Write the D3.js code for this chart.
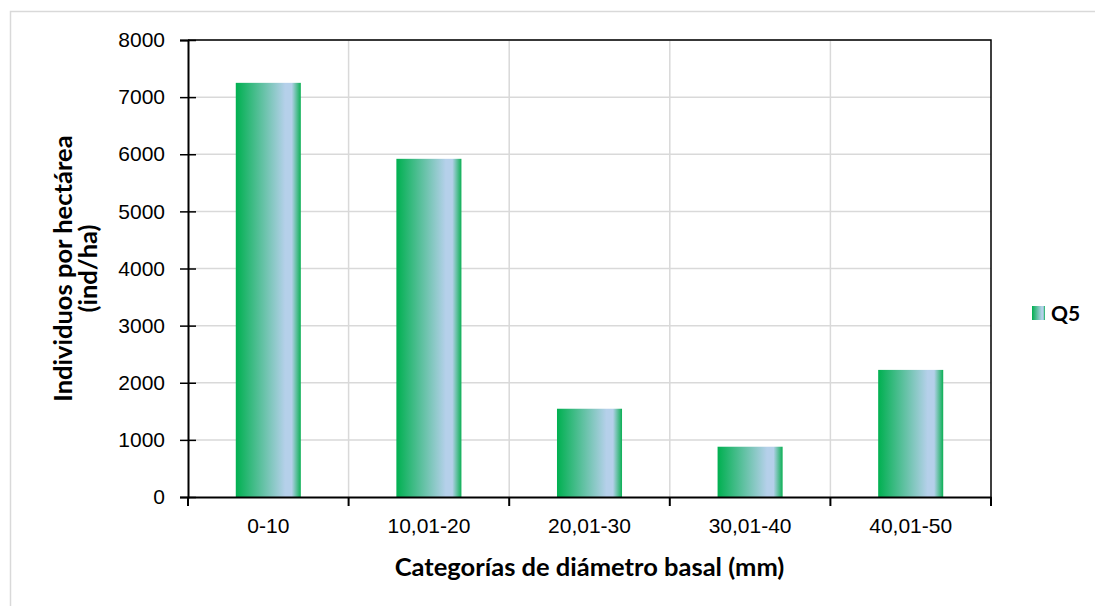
<!DOCTYPE html>
<html>
<head>
<meta charset="utf-8">
<script src="https://cdn.jsdelivr.net/npm/d3@7"></script>
<style>
  html, body { margin: 0; padding: 0; background: #fff; }
  svg { display: block; font-family: Lato, "Open Sans", sans-serif; }
</style>
</head>
<body>
<svg id="chart" width="1095" height="606"></svg>
<script>
// Diameter classes and density of individuals (ind/ha)
const categories = ["0-10", "10,01-20", "20,01-30", "30,01-40", "40,01-50"];
const q5Values = [7250, 5920, 1545, 880, 2225];
const yTicks = [0, 1000, 2000, 3000, 4000, 5000, 6000, 7000, 8000];
const seriesName = "Q5";

const svg = d3.select("#chart");
const W = 1095, H = 606;
const plot = { left: 188, right: 991, top: 40, bottom: 497 };

// Outer chart frame
svg.append("rect")
  .attr("x", 10.5).attr("y", 11.5)
  .attr("width", W).attr("height", H)
  .attr("fill", "none").attr("stroke", "#d9d9d9").attr("stroke-width", 1.5);

const x = d3.scaleBand().domain(categories)
  .range([plot.left, plot.right]).paddingInner(0).paddingOuter(0);
const y = d3.scaleLinear().domain([0, 8000]).range([plot.bottom, plot.top]);

// Bar gradient: green to pale blue with a green rim on the right
const defs = svg.append("defs");
const grad = defs.append("linearGradient").attr("id", "barGrad")
  .attr("x1", "0%").attr("x2", "100%").attr("y1", "0%").attr("y2", "0%");
[[0, "#00b050"], [0.76, "#b5d0ea"], [0.86, "#b5d0ea"], [1, "#0cb055"]]
  .forEach(([o, c]) => grad.append("stop").attr("offset", o).attr("stop-color", c));

// Horizontal gridlines
svg.append("g").selectAll("line").data(yTicks.filter(t => t > 0)).join("line")
  .attr("x1", plot.left).attr("x2", plot.right)
  .attr("y1", d => y(d)).attr("y2", d => y(d))
  .attr("stroke", "#d9d9d9").attr("stroke-width", 1.5);

// Vertical gridlines at class boundaries
const bounds = categories.slice(1).map(c => x(c));
svg.append("g").selectAll("line").data(bounds).join("line")
  .attr("x1", d => d).attr("x2", d => d)
  .attr("y1", plot.top).attr("y2", plot.bottom)
  .attr("stroke", "#d9d9d9").attr("stroke-width", 1.5);

// Bars
const barW = x.bandwidth() * 0.405;
svg.append("g").selectAll("rect").data(q5Values).join("rect")
  .attr("x", (d, i) => x(categories[i]) + (x.bandwidth() - barW) / 2)
  .attr("width", barW)
  .attr("y", d => y(d))
  .attr("height", d => y(0) - y(d))
  .attr("fill", "url(#barGrad)");

// Frame on top and right of plot area
svg.append("path")
  .attr("d", `M${plot.left},${plot.top}H${plot.right}V${plot.bottom}`)
  .attr("fill", "none").attr("stroke", "#000").attr("stroke-width", 1.5);

// Y axis
const yAxis = svg.append("g").attr("transform", `translate(${plot.left},0)`)
  .call(d3.axisLeft(y).tickValues(yTicks).tickSize(8).tickPadding(15).tickFormat(d3.format("d")));
yAxis.select(".domain").attr("stroke", "#000").attr("stroke-width", 2);
yAxis.selectAll(".tick line").attr("x2", 8).attr("x1", -8).attr("stroke-width", 1.5);
yAxis.selectAll("text").attr("font-size", 21).attr("fill", "#000").attr("x", -23);

// X axis
const xAxis = svg.append("g").attr("transform", `translate(0,${plot.bottom})`)
  .call(d3.axisBottom(x).tickSize(0).tickPadding(21));
xAxis.select(".domain").attr("stroke", "#000").attr("stroke-width", 2);
xAxis.selectAll("text").attr("font-size", 21).attr("fill", "#000");
// Tick marks between classes
svg.append("g").selectAll("line")
  .data([plot.left, ...bounds, plot.right]).join("line")
  .attr("x1", d => d).attr("x2", d => d)
  .attr("y1", plot.bottom).attr("y2", plot.bottom + 9)
  .attr("stroke", "#000").attr("stroke-width", 2);

// Axis titles
svg.append("text")
  .attr("x", (plot.left + plot.right) / 2).attr("y", 576)
  .attr("text-anchor", "middle").attr("font-weight", "bold").attr("font-size", 25.5)
  .text("Categorías de diámetro basal (mm)");

const yt = svg.append("text")
  .attr("transform", `translate(0,${(plot.top + plot.bottom) / 2}) rotate(-90)`)
  .attr("text-anchor", "middle").attr("font-weight", "bold").attr("font-size", 25.5);
yt.append("tspan").attr("x", 0).attr("y", 72).text("Individuos por hectárea");
yt.append("tspan").attr("x", 0).attr("y", 97).text("(ind/ha)");

// Legend
const lg = svg.append("g").attr("transform", "translate(1032,306)");
lg.append("rect").attr("width", 13).attr("height", 14).attr("fill", "url(#barGrad)");
lg.append("text").attr("x", 19).attr("y", 14.5).attr("font-weight", "bold").attr("font-size", 21)
  .text(seriesName);
</script>
</body>
</html>
